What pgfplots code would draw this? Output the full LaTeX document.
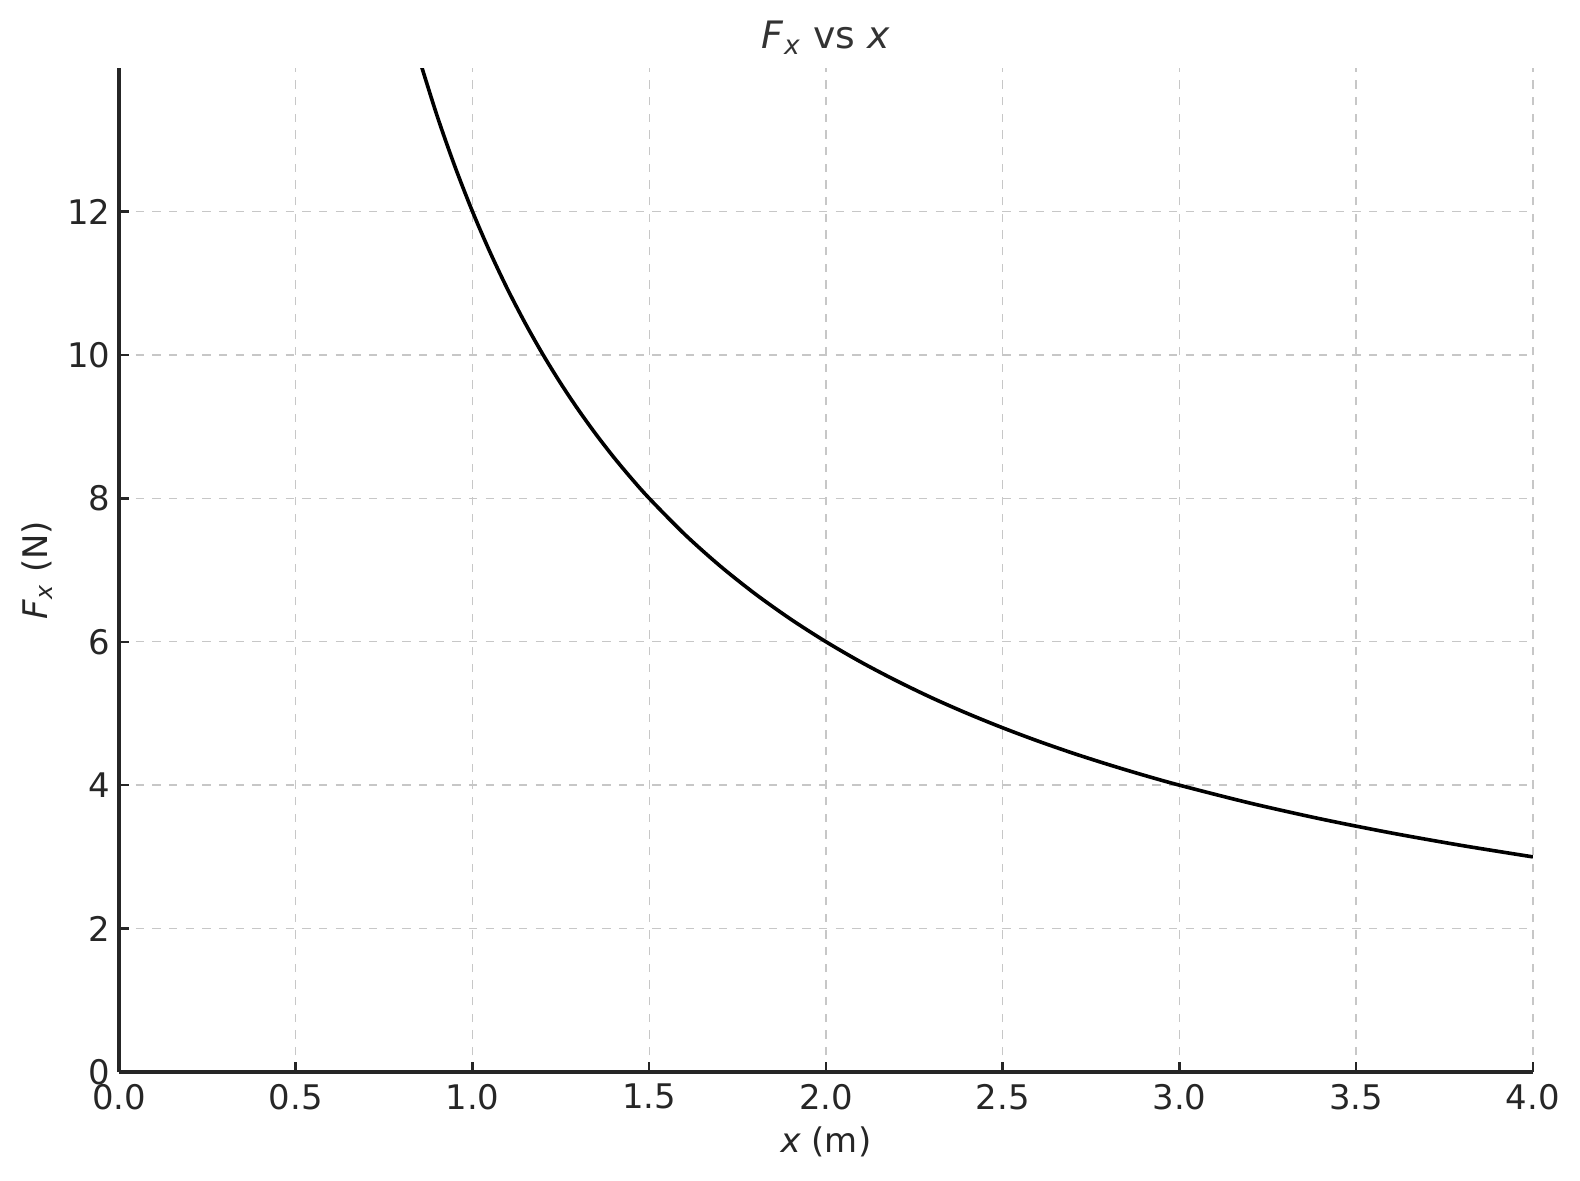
\documentclass[border=0pt]{standalone}
\usepackage{pgfplots}
\pgfplotsset{compat=1.18}
\usepackage{fontspec}
\setmainfont{DejaVu Sans}
\definecolor{txt}{HTML}{262626}
\definecolor{ttl}{HTML}{333333}
\begin{document}
\fontsize{12.2pt}{14pt}\selectfont
\begin{tikzpicture}
\begin{axis}[
  scale only axis,
  width=509pt, height=361.4pt,
  xmin=0, xmax=4, ymin=0, ymax=14,
  xtick={0,0.5,...,4}, ytick={0,2,...,12},
  axis lines*=left,
  axis line style={color=txt, line width=1.1pt},
  tick style={color=txt, line width=0.9pt},
  tick align=inside, major tick length=3.6pt,
  xtick pos=left, ytick pos=left,
  grid=major,
  major grid style={dashed, color=black!22, line width=0.5pt},
  /pgf/number format/assume math mode=true,
  ticklabel style={color=txt, font=\fontsize{12.2pt}{14pt}\selectfont},
  xticklabel style={/pgf/number format/.cd, fixed, fixed zerofill, precision=1},
  yticklabel style={xshift=1.1pt, /pgf/number format/.cd, fixed, precision=0},
  every axis x label/.style={at={([yshift=-25.2pt]axis description cs:0.5,0)}, anchor=center},
  every axis y label/.style={at={([xshift=-29.5pt]axis description cs:0,0.5)}, anchor=center, rotate=90},
  every axis title/.style={at={([yshift=10.8pt]axis description cs:0.5,1)}, anchor=center},
  xlabel={\textit{x} (m)},
  ylabel={\textit{F}\textsubscript{\textit{x}} (N)},
  title={\fontsize{13.6pt}{16pt}\selectfont\color{ttl}\textit{F}\textsubscript{\textit{x}} vs \textit{x}},
  label style={color=txt, font=\fontsize{12.2pt}{14pt}\selectfont},
  clip=true,
]
\addplot[black, line width=1.3pt, smooth] coordinates {
(0.85,14.118) (0.9,13.333) (0.95,12.632) (1.0,12) (1.05,11.429) (1.1,10.909) (1.15,10.435) (1.2,10) (1.25,9.6) (1.3,9.231) (1.35,8.889) (1.4,8.571) (1.45,8.276) (1.5,8) (1.6,7.5) (1.7,7.059) (1.8,6.667) (1.9,6.316) (2.0,6) (2.1,5.714) (2.2,5.455) (2.3,5.217) (2.4,5) (2.5,4.8) (2.6,4.615) (2.7,4.444) (2.8,4.286) (2.9,4.138) (3.0,4) (3.2,3.75) (3.4,3.529) (3.6,3.333) (3.8,3.158) (4.0,3)
};
\end{axis}
\pgfresetboundingbox
\useasboundingbox (-42.84pt,-38.88pt) rectangle (525.96pt,385.92pt);
\end{tikzpicture}
\end{document}
